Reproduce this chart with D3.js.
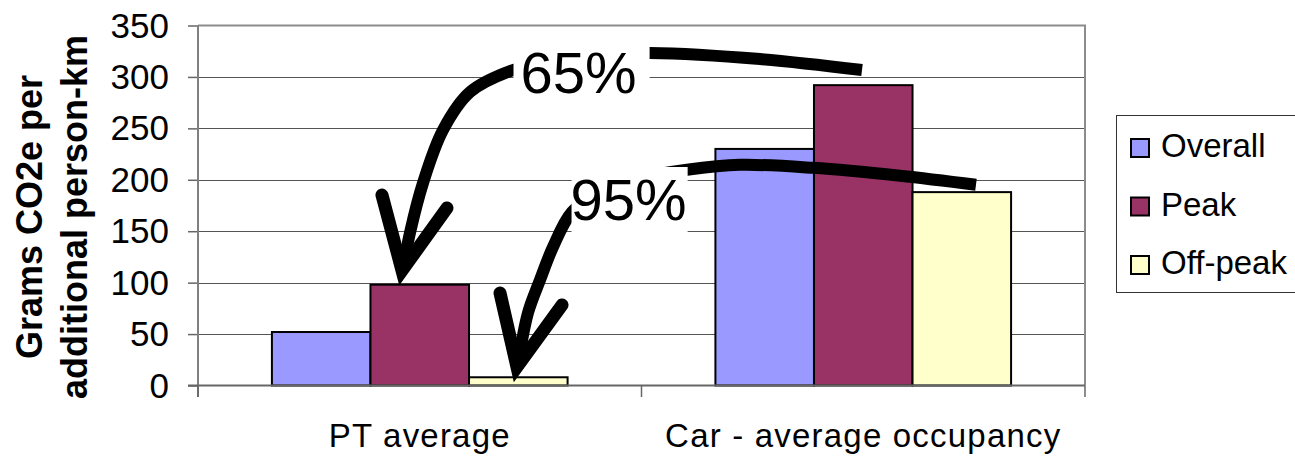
<!DOCTYPE html>
<html>
<head>
<meta charset="utf-8">
<script src="https://cdn.jsdelivr.net/npm/d3@7"></script>
<style>
  html, body { margin: 0; padding: 0; background: #fff; }
  svg { display: block; font-family: "Liberation Sans", Arial, sans-serif; }
</style>
</head>
<body>
<svg id="chart" width="1295" height="456"></svg>
<script>
// Emissions per additional person-km, by mode and time of day
const categories = ["PT average", "Car - average occupancy"];
const seriesNames = ["Overall", "Peak", "Off-peak"];
const overall = [52, 230];
const peak = [98, 292];
const offPeak = [8, 188];
const seriesValues = [overall, peak, offPeak];
const seriesColors = ["#9999FF", "#993366", "#FFFFCC"];
const yTicks = [0, 50, 100, 150, 200, 250, 300, 350];
const yTitle = ["Grams CO2e per", "additional person-km"];

// Reduction callouts: curve points are [fraction of plot width, value]
const callouts = [
  {
    label: "65%",
    textAt: [0.3636, 284.4],
    padL: 7, padR: 13,
    curve: [[0.7486, 306.7], [0.6336, 317.4], [0.5096, 323.3], [0.4307, 321.3],
            [0.3551, 306.7], [0.3067, 285.3], [0.2762, 248.4], [0.2537, 197.0],
            [0.2390, 148.5], [0.2311, 113.5]],
    head: [[0.2074, 185.2], [0.2300, 111.8], [0.2807, 172.6]]
  },
  {
    label: "95%",
    textAt: [0.4200, 160.9],
    padL: -1, padR: 1,
    curve: [[0.8771, 195.1], [0.7914, 203.9], [0.6934, 211.6], [0.6111, 214.5],
            [0.5513, 209.7], [0.4983, 201.6], [0.4532, 188.1], [0.4216, 168.7],
            [0.4002, 134.6], [0.3856, 102.6], [0.3720, 70.5], [0.3606, 20.0]],
    head: [[0.3405, 89.9], [0.3596, 18.0], [0.4104, 78.3]]
  }
];

const svg = d3.select("#chart");
const plotL = 198, plotR = 1085, plotT = 25.5, plotB = 385.5;

const y = d3.scaleLinear().domain([0, 350]).range([plotB, plotT]);
const x0 = d3.scaleBand().domain(categories).range([plotL, plotR])
  .paddingInner(1 / 3).paddingOuter(1 / 6);
const x1 = d3.scaleBand().domain(seriesNames).range([0, x0.bandwidth()]).padding(0);
const xf = d3.scaleLinear().domain([0, 1]).range([plotL, plotR]);

// Horizontal gridlines
svg.append("g").selectAll("line").data(yTicks.filter(t => t > 0 && t < 350)).join("line")
  .attr("x1", plotL).attr("x2", plotR)
  .attr("y1", d => Math.round(y(d)) + 0.5).attr("y2", d => Math.round(y(d)) + 0.5)
  .attr("stroke", "#555").attr("stroke-width", 1);

// Plot frame (top and right)
svg.append("path")
  .attr("d", `M${plotL},${y(350)}H${plotR}V${plotB}`)
  .attr("fill", "none").attr("stroke", "#8c8c8c").attr("stroke-width", 2);

// Bars
const groups = svg.append("g").selectAll("g").data(categories).join("g")
  .attr("transform", d => `translate(${x0(d)},0)`);
groups.selectAll("rect")
  .data((c, ci) => seriesNames.map((s, si) => ({ s, si, v: seriesValues[si][ci] })))
  .join("rect")
  .attr("x", d => x1(d.s))
  .attr("width", x1.bandwidth())
  .attr("y", d => y(d.v))
  .attr("height", d => y(0) - y(d.v))
  .attr("fill", d => seriesColors[d.si])
  .attr("stroke", "#000").attr("stroke-width", 2);

// Y axis
const yAxis = svg.append("g").attr("transform", `translate(${plotL},0)`)
  .call(d3.axisLeft(y).tickValues(yTicks).tickSize(10).tickPadding(19).tickSizeOuter(0));
yAxis.select(".domain").remove();
yAxis.selectAll(".tick line").attr("stroke", "#666").attr("stroke-width", 1.5);
yAxis.selectAll(".tick text").attr("font-size", 35).attr("fill", "#000")
  .attr("font-family", "Liberation Sans, Arial, sans-serif").attr("dy", "0.33em");
svg.append("line").attr("x1", plotL).attr("x2", plotL).attr("y1", plotT).attr("y2", 397)
  .attr("stroke", "#808080").attr("stroke-width", 2);

// X axis
svg.append("line").attr("x1", plotL - 10).attr("x2", plotR).attr("y1", plotB).attr("y2", plotB)
  .attr("stroke", "#666").attr("stroke-width", 2);
const boundaries = [plotL, ...categories.slice(1).map(c => x0(c) - x0.step() * x0.paddingInner() / 2), plotR];
svg.append("g").selectAll("line").data(boundaries).join("line")
  .attr("x1", d => d).attr("x2", d => d).attr("y1", plotB).attr("y2", 397)
  .attr("stroke", "#666").attr("stroke-width", 1.5);
svg.append("g").selectAll("text").data(categories).join("text")
  .attr("x", d => x0(d) + x0.bandwidth() / 2)
  .attr("y", 447)
  .attr("text-anchor", "middle")
  .attr("font-size", 33)
  .attr("letter-spacing", 1.2)
  .text(d => d);

// Y axis title
const yt = svg.append("text")
  .attr("transform", `translate(0,217) rotate(-90)`)
  .attr("text-anchor", "middle")
  .attr("font-size", 36).attr("font-weight", "bold");
yt.selectAll("tspan").data(yTitle).join("tspan")
  .attr("x", 0).attr("y", (d, i) => 42 + i * 45)
  .text(d => d);

// Callout arrows with labels
const curveLine = d3.line().x(d => xf(d[0])).y(d => y(d[1])).curve(d3.curveCatmullRom);
const headLine = d3.line().x(d => xf(d[0])).y(d => y(d[1]));
const ann = svg.append("g");
callouts.forEach(c => {
  ann.append("path").attr("d", curveLine(c.curve))
    .attr("fill", "none").attr("stroke", "#000").attr("stroke-width", 12)
    .attr("stroke-linecap", "butt");
  ann.append("path").attr("d", headLine(c.head))
    .attr("fill", "none").attr("stroke", "#000").attr("stroke-width", 13)
    .attr("stroke-linecap", "round").attr("stroke-linejoin", "miter")
    .attr("stroke-miterlimit", 10);
});
callouts.forEach(c => {
  const g = ann.append("g");
  const box = g.append("rect").attr("fill", "#fff");
  const t = g.append("text")
    .attr("x", xf(c.textAt[0])).attr("y", y(c.textAt[1]))
    .attr("font-size", 58).attr("fill", "#000")
    .text(c.label);
  const b = t.node().getBBox();
  box.attr("x", b.x - c.padL).attr("y", b.y)
    .attr("width", b.width + c.padL + c.padR).attr("height", b.height);
});

// Legend
const legend = svg.append("g");
legend.append("rect")
  .attr("x", 1116.5).attr("y", 115.5).attr("width", 200).attr("height", 177)
  .attr("fill", "#fff").attr("stroke", "#333").attr("stroke-width", 1);
const li = legend.selectAll("g.item").data(seriesNames).join("g").attr("class", "item")
  .attr("transform", (d, i) => `translate(1130,${138 + i * 58.5})`);
li.append("rect").attr("x", 1).attr("y", 1).attr("width", 18).attr("height", 18)
  .attr("fill", (d, i) => seriesColors[i]).attr("stroke", "#000").attr("stroke-width", 2);
li.append("text").attr("x", 31).attr("y", 19).attr("font-size", 33).text(d => d);
</script>
</body>
</html>
